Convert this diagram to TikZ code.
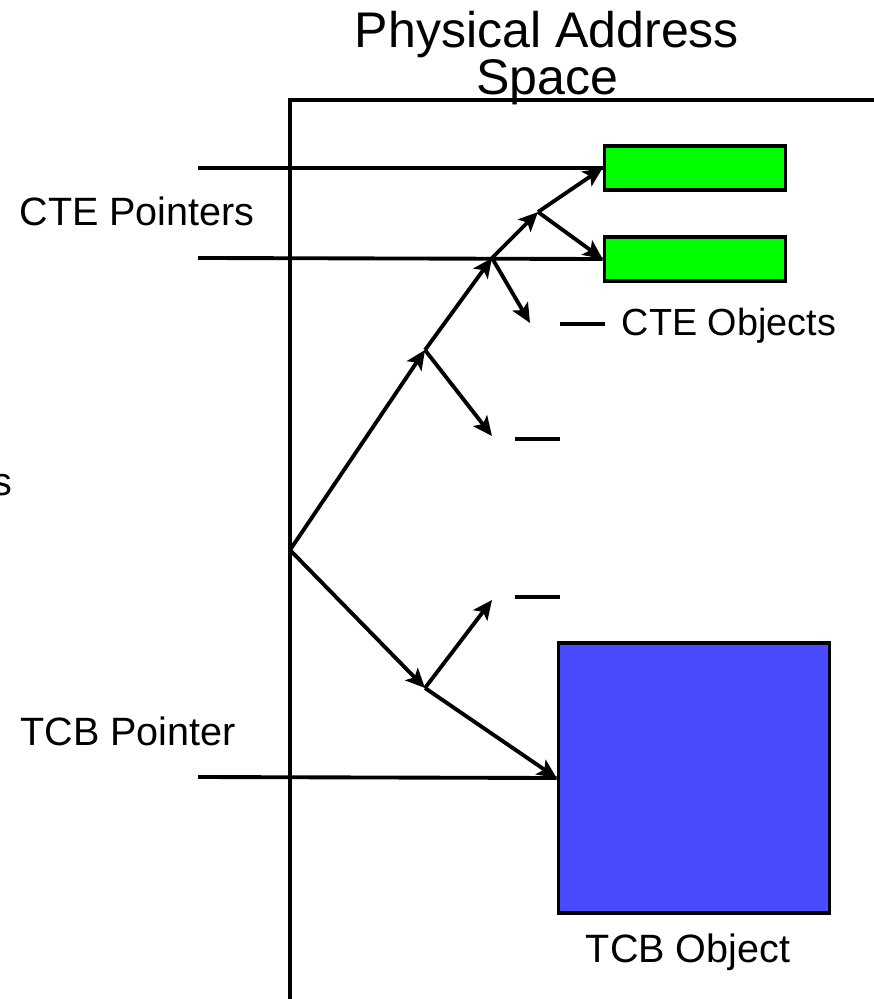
\documentclass[tikz,border=0pt]{standalone}
\usepackage{fontspec}
\setmainfont{Liberation Sans}
\usetikzlibrary{positioning,arrows.meta}
\definecolor{ctegreen}{RGB}{0,255,0}
\definecolor{tcbblue}{RGB}{74,74,255}

\begin{document}
\begin{tikzpicture}[x=0.02cm, y=-0.02cm]
                \tikzset{obj/.style={draw, line width=2.1pt, inner sep=0pt},
                         cte/.style={obj, fill=ctegreen, minimum width=3.62cm, minimum height=0.88cm},
                         tcb/.style={obj, fill=tcbblue, minimum width=5.42cm, minimum height=5.4cm},
                         txt/.style={font=\fontsize{22.5}{24}\selectfont, inner sep=0pt, anchor=base},
                         ptr/.style={line width=2.2pt},
                         pt/.style={-{Stealth[length=11pt, width=10pt, inset=2.5pt]}, line width=2.2pt}}
                \useasboundingbox (0,0) rectangle (874,999);
                % address space
                \draw[line width=2pt] (874,100) -- (290,100) -- (290,999);
                \node[font=\fontsize{28.5}{25.5}\selectfont, align=center, inner sep=0pt] (title) at (547,58) {Physical Address\\Space};
                % objects
                \node[cte] (cte1) at (695,168) {};
                \node[cte] (cte2) at (695,259) {};
                \node[tcb] (tcb) at (694,778) {};
                \node[txt, font=\fontsize{21.5}{24}\selectfont] (cteobj) at (729,336) {CTE Objects};
                \node[txt] (tcbobj) at (688,962) {TCB Object};
                \node[txt] (cteptr) at (137,226) {CTE Pointers};
                \node[txt] (tcbptr) at (128,745) {TCB Pointer};
                \node[txt, anchor=base east] (cut) at (13,495) {s};
                % pointers
                \coordinate (p1) at (198,168);
                \coordinate (p2) at (198,258);
                \coordinate (p3) at (198,777);
                \draw[ptr] (p1) -- (cte1.west);
                \draw[ptr] (p2) -- (cte2.west);
                \draw[ptr] (p3) -- (tcb.west);
                % tree
                \coordinate (root) at (290,550);
                \coordinate (a) at (425,350);
                \coordinate (b) at (492,258);
                \coordinate (c) at (538,212);
                \coordinate (d) at (425,688);
                \coordinate (e1) at (530,323);
                \coordinate (e2) at (492,436);
                \coordinate (e3) at (492,600);
                \path[pt]
                    (root) edge (a)
                           edge (d)
                    (a) edge (b)
                        edge (e2)
                    (b) edge (c)
                        edge (e1)
                    (c) edge (cte1.west)
                        edge (cte2.west)
                    (d) edge (e3)
                        edge (tcb.west);
                % empty slots
                \draw[ptr] (560,324) -- (605,324);
                \draw[ptr] (515,439) -- (560,439);
                \draw[ptr] (515,597) -- (560,597);
            \end{tikzpicture}
\end{document}
